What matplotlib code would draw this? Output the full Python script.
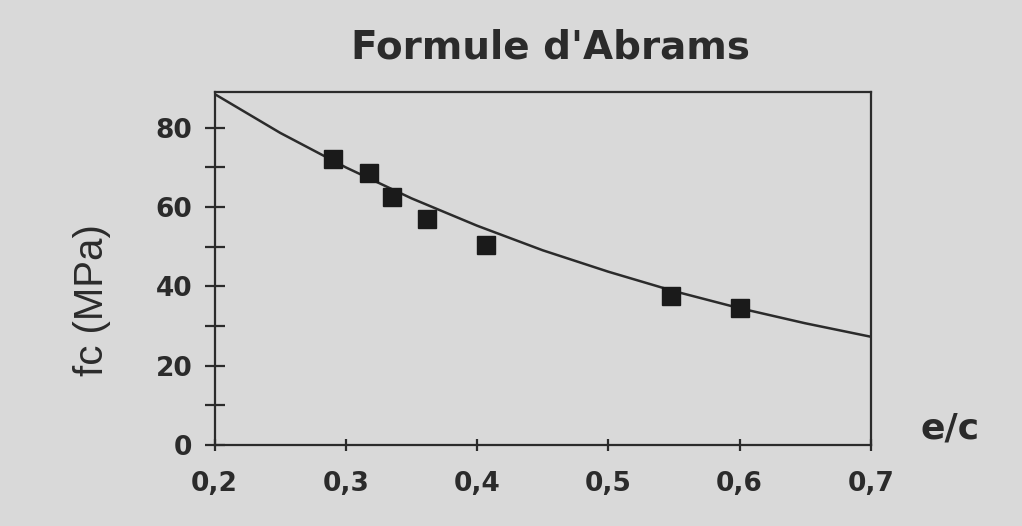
import matplotlib.pyplot as plt
from matplotlib.ticker import FixedLocator, FuncFormatter

# measured points (e/c, fc)
ec_pts = [0.29, 0.318, 0.335, 0.362, 0.407, 0.548, 0.600]
fc_pts = [72.0, 68.5, 62.5, 57.0, 50.5, 37.5, 34.5]

# Abrams curve
ec_curve = [0.20, 0.25, 0.30, 0.35, 0.40, 0.45, 0.50, 0.55, 0.60, 0.65, 0.70]
fc_curve = [88.5, 78.7, 70.0, 62.2, 55.3, 49.1, 43.7, 38.8, 34.5, 30.7, 27.3]

paper = '#d9d9d9'
ink = '#2b2b2b'

fig = plt.figure(figsize=(10.22, 5.26), dpi=100, facecolor=paper)
ax = fig.add_axes([0.210, 0.154, 0.642, 0.671], facecolor=paper)

ax.plot(ec_curve, fc_curve, color=ink, lw=1.8)
ax.plot(ec_pts, fc_pts, 's', color='#1a1a1a', ms=13, mec='#1a1a1a')

ax.set_xlim(0.2, 0.7)
ax.set_ylim(0, 89)

for s in ax.spines.values():
    s.set_color(ink)
    s.set_linewidth(1.6)

ax.yaxis.set_major_locator(FixedLocator([0, 20, 40, 60, 80]))
ax.yaxis.set_minor_locator(FixedLocator([10, 30, 50, 70]))
ax.xaxis.set_major_locator(FixedLocator([0.2, 0.3, 0.4, 0.5, 0.6, 0.7]))
ax.xaxis.set_major_formatter(FuncFormatter(lambda v, p: ('%.1f' % v).replace('.', ',')))

ax.tick_params(axis='y', which='both', direction='inout', length=14, width=1.6,
               color=ink, pad=9)
ax.tick_params(axis='x', which='major', direction='inout', length=9, width=1.6,
               color=ink, pad=14)
for lab in ax.get_xticklabels() + ax.get_yticklabels():
    lab.set_fontsize(19)
    lab.set_fontweight('bold')
    lab.set_color(ink)
    lab.set_fontfamily('DejaVu Sans')

fig.text(0.090, 0.43, 'fc (MPa)', fontsize=29, color=ink, rotation=90,
         family=['Liberation Sans Narrow', 'Liberation Sans'],
         ha='center', va='center')
fig.text(0.539, 0.909, "Formule d'Abrams", fontsize=28, fontweight='bold', color=ink,
         family='DejaVu Sans', ha='center', va='center')
fig.text(0.930, 0.185, 'e/c', fontsize=26, fontweight='bold', color=ink,
         family='DejaVu Sans', ha='center', va='center')

fig.savefig('out.png', dpi=100, facecolor=paper)
